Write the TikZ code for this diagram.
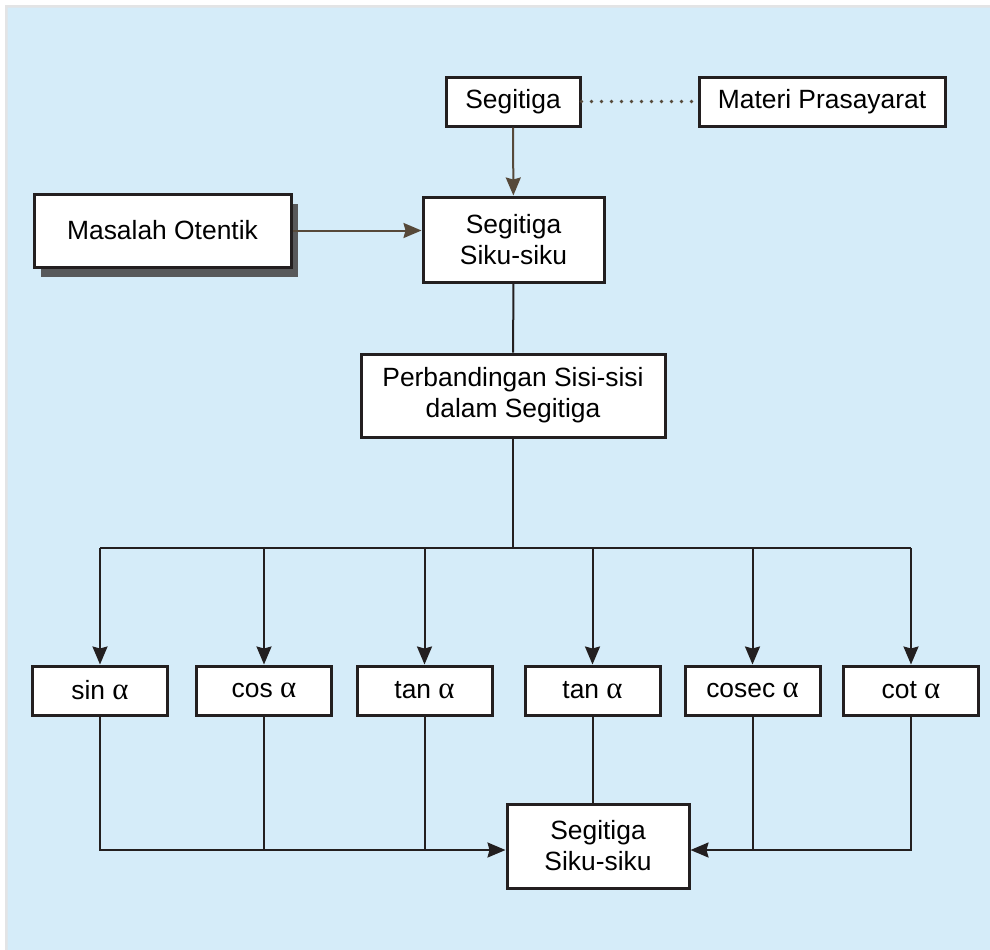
\documentclass[tikz,border=0pt]{standalone}
\usepackage{fontspec}
\setmainfont{Liberation Sans}
\newfontfamily\greekfont{Liberation Serif}
\usetikzlibrary{arrows.meta,shadows}
\definecolor{panelfill}{HTML}{D5ECF9}
\definecolor{panelrim}{HTML}{E3E4E5}
\definecolor{boxline}{HTML}{231F20}
\definecolor{linkbrown}{HTML}{56493A}
\definecolor{shadowgrey}{HTML}{58595B}
\newcommand{\alp}{{\greekfont\fontsize{15.4}{15.5}\selectfont α}}
\tikzset{
  box/.style={draw=boxline, line width=1.5pt, fill=white, align=center,
              inner sep=0pt, font=\fontsize{13.2}{15.5}\selectfont},
  ratiobox/.style={box, minimum width=67.5pt, minimum height=24.5pt},
  link/.style={draw=boxline, line width=1pt},
  arrowlink/.style={link, -{Stealth[length=9pt,width=7.5pt,inset=1pt]}},
  brownlink/.style={draw=linkbrown, line width=1pt, -{Stealth[length=9pt,width=7.5pt,inset=1pt]}},
}

\begin{document}
\begin{tikzpicture}[x=0.5pt, y=-0.5pt]
    \useasboundingbox (0,0) rectangle (990,949);
    \fill[panelfill] (5,5) rectangle (991,950);
    \fill[panelrim] (5,5) rectangle (991,7.5) (5,5) rectangle (7.5,950);
    \node[box, minimum width=67pt, minimum height=24.5pt] (seg) at (513,101.5) {Segitiga};
    \node[box, minimum width=123pt, minimum height=24.5pt] (prasyarat) at (822,101.5) {Materi Prasayarat};
    \node[box, minimum width=90.5pt, minimum height=42.5pt] (siku) at (513.5,239.5) {Segitiga\\Siku-siku};
    \node[box, minimum width=128.5pt, minimum height=36.5pt,
          drop shadow={shadow xshift=3.5pt, shadow yshift=-5pt, fill=shadowgrey, opacity=1}]
          (masalah) at (162.5,230.5) {Masalah Otentik};
    \node[box, minimum width=152pt, minimum height=41.5pt] (banding) at (513,395.5) {Perbandingan Sisi-sisi\\dalam Segitiga};
    \node[ratiobox] (sin) at (100,690.5) {sin \alp};
    \node[ratiobox] (cos) at (264,690.5) {cos \alp};
    \node[ratiobox] (tanA) at (424.5,690.5) {tan \alp};
    \node[ratiobox] (tanB) at (592.5,690.5) {tan \alp};
    \node[ratiobox] (cosec) at (752.5,690.5) {cosec \alp};
    \node[ratiobox] (cot) at (911,690.5) {cot \alp};
    \node[box, minimum width=91pt, minimum height=42pt] (hasil) at (598,846) {Segitiga\\Siku-siku};
    \coordinate (bus) at (515,548);
    \coordinate (joinL) at ([yshift=-2pt]hasil.west);
    \coordinate (joinR) at ([yshift=-2pt]hasil.east);
    \draw[draw=linkbrown, line width=1.8pt, line cap=round, dash pattern=on 0pt off 5pt] (seg.east) -- (prasyarat.west);
    \draw[brownlink] (seg) -- (siku);
    \draw[brownlink] (masalah.east) -- (siku.west |- masalah.east);
    \draw[link] (siku) -- (banding);
    \draw[link] (banding.south) -- (banding.south |- bus);
    \draw[link] (sin |- bus) -- (cot |- bus);
    \foreach \n in {sin,cos,tanA,tanB,cosec,cot}
      \draw[arrowlink] (\n |- bus) -- (\n.north);
    \draw[arrowlink] (sin.south) |- (joinL);
    \draw[link] (cos.south) -- (cos |- joinL);
    \draw[link] (tanA.south) -- (tanA |- joinL);
    \draw[link] (tanB.south) -- (tanB.south |- hasil.north);
    \draw[arrowlink] (cot.south) |- (joinR);
    \draw[link] (cosec.south) -- (cosec |- joinR);
  \end{tikzpicture}
\end{document}
